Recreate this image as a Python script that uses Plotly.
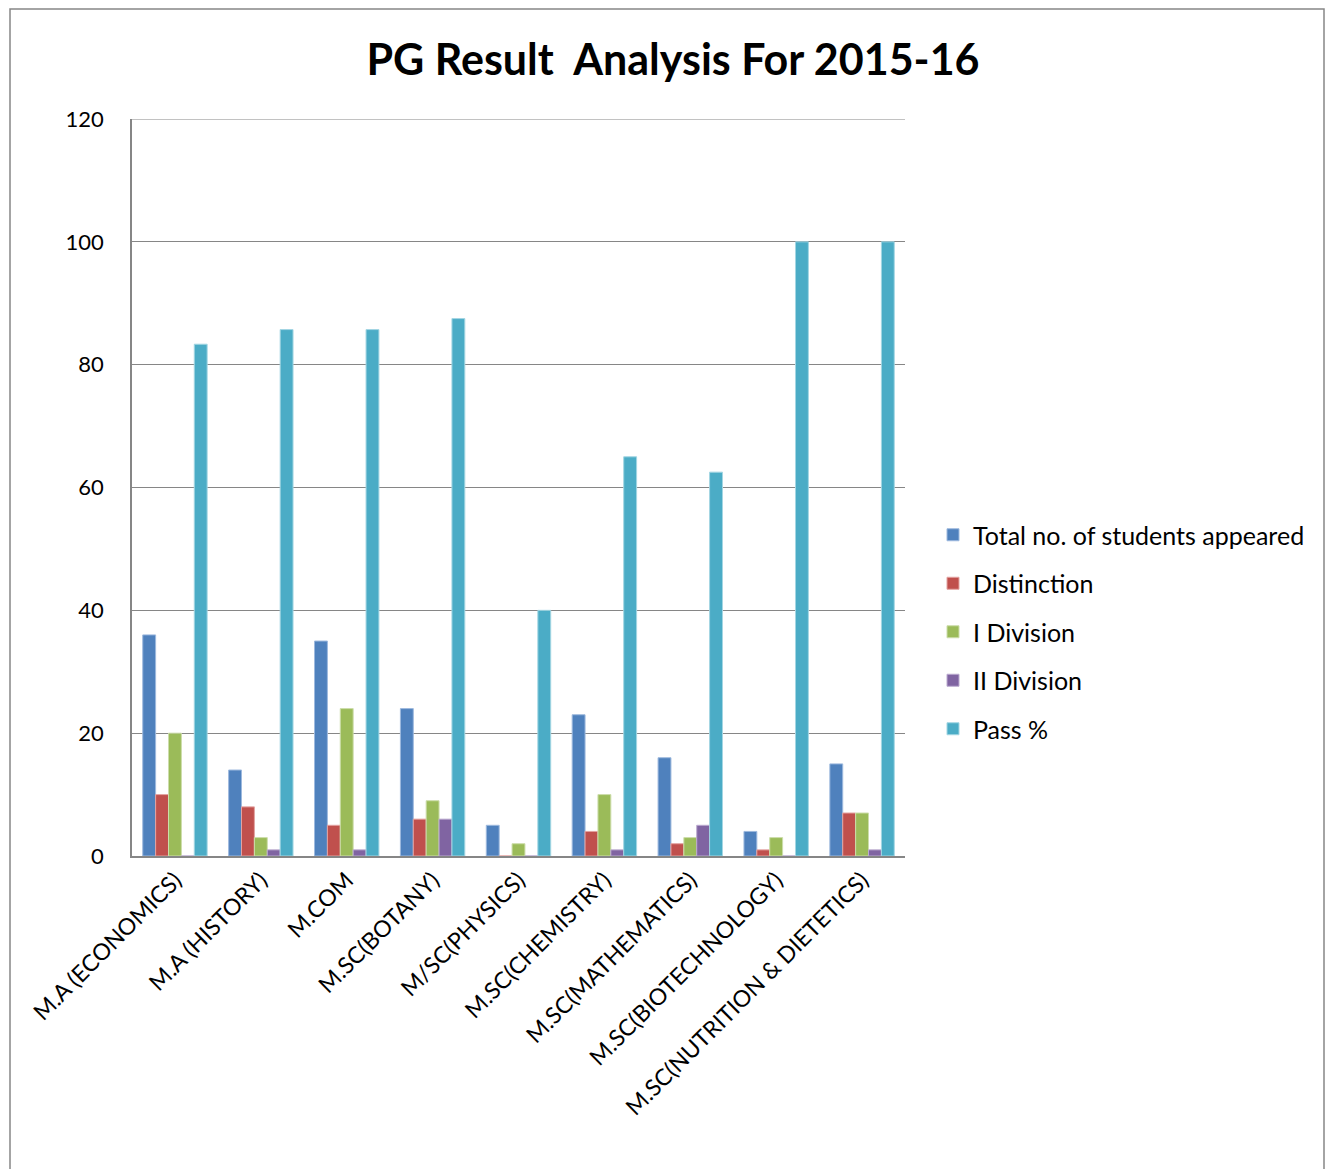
import plotly.graph_objects as go

categories = ["M.A (ECONOMICS)", "M.A (HISTORY)", "M.COM", "M.SC(BOTANY)", "M/SC(PHYSICS)",
              "M.SC(CHEMISTRY)", "M.SC(MATHEMATICS)", "M.SC(BIOTECHNOLOGY)",
              "M.SC(NUTRITION & DIETETICS)"]
total_appeared = [36, 14, 35, 24, 5, 23, 16, 4, 15]
distinction = [10, 8, 5, 6, 0, 4, 2, 1, 7]
first_division = [20, 3, 24, 9, 2, 10, 3, 3, 7]
second_division = [0, 1, 1, 6, 0, 1, 5, 0, 1]
pass_pct = [83.33, 85.71, 85.71, 87.5, 40, 65, 62.5, 100, 100]

series = [
    ("Total no. of students appeared", total_appeared, "#4F81BD", "#9DB9DE"),
    ("Distinction", distinction, "#C0504D", "#E3A3A1"),
    ("I Division", first_division, "#9BBB59", "#CCDDAA"),
    ("II Division", second_division, "#8064A2", "#BBAACF"),
    ("Pass %", pass_pct, "#4BACC6", "#A3D6E3"),
]

fig = go.Figure()
for i, (name, vals, col, edge) in enumerate(series):
    fig.add_trace(go.Bar(x=categories, y=vals, name=name, legendgroup=f"g{i}",
                         marker=dict(color=col, line=dict(color=edge, width=1))))

# page offset (browser body margin)
OFF = 8
W, H = 1336 - OFF, 1169 - OFF
# desired plot area in screen pixels
PX0, PX1, PY0, PY1 = 132, 905, 119, 856
L = PX0 - OFF
T = PY0 - OFF
R = W + OFF - PX1
B = H + OFF - PY1
pw, ph = PX1 - PX0, PY1 - PY0

def px_x(p):
    return (p - PX0) / pw

def px_y(p):
    return (PY1 - p) / ph

fig.update_layout(
    width=W, height=H,
    margin=dict(l=L, r=R, t=T, b=B),
    paper_bgcolor="white", plot_bgcolor="white",
    barmode="group", bargap=0.25, bargroupgap=0,
    font=dict(family="Lato, Open Sans, sans-serif", color="#000000", size=22),
    title=dict(text="<b>PG Result  Analysis For 2015-16</b>", x=px_x(673), xanchor="center",
               xref="paper", y=1 - (60 - OFF) / H, yanchor="middle",
               font=dict(size=43, family="Lato, Open Sans, sans-serif", color="#000000")),
    legend=dict(x=px_x(933), xanchor="left", y=px_y(632), yanchor="middle",
                font=dict(size=25, color="#000000"), tracegroupgap=13,
                itemwidth=30, bgcolor="rgba(0,0,0,0)"),
    xaxis=dict(tickangle=-45, showline=True, linecolor="#868686", linewidth=1.5,
               ticks="", tickfont=dict(size=23), showgrid=False),
    yaxis=dict(range=[0, 120], tickvals=[0, 20, 40, 60, 80, 100, 120], showline=True,
               linecolor="#868686", linewidth=1.5,
               gridcolor="#868686", gridwidth=1, ticks="", ticklabelstandoff=22,
               tickfont=dict(size=22), zeroline=False),
    shapes=[
        dict(type="rect", xref="paper", yref="paper",
             x0=px_x(10), x1=px_x(1324), y0=px_y(1200), y1=px_y(9),
             line=dict(color="#868686", width=1.5), layer="below"),
        dict(type="line", xref="paper", yref="y", x0=0, x1=1, y0=120, y1=120,
             line=dict(color="#868686", width=1), layer="below"),
    ],
)

fig.write_html("out.html")
